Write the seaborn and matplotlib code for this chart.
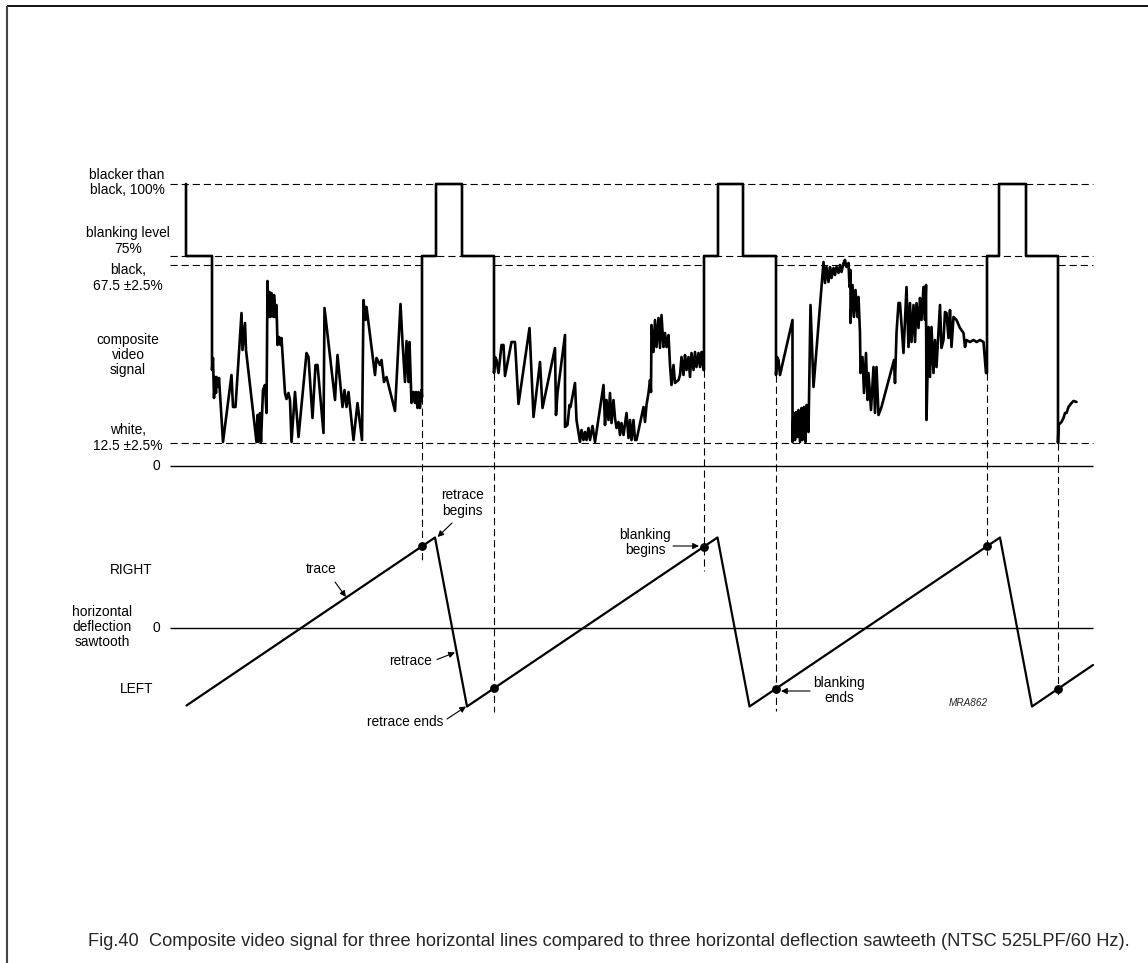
import numpy as np
import matplotlib
matplotlib.use("Agg")
import matplotlib.pyplot as plt
import seaborn as sns

# ------------------------------------------------------------------
# DATA  (diagram units: x = time position, y = level position, y grows downward)
# ------------------------------------------------------------------
# Video reference levels
LEVEL_SYNC = 184      # blacker than black, 100 %
LEVEL_BLANK = 256     # blanking level, 75 %
LEVEL_BLACK = 265     # black, 67.5 %
LEVEL_WHITE = 443     # white, 12.5 %
LEVEL_ZERO = 466      # 0
SAW_ZERO = 628        # sawtooth 0

# timing of the three horizontal lines
sync_end = [186, 462, 743, 1026]
blank_end = [212, 494, 776, 1058]
blank_begin = [422, 704, 987]
sync_begin = [436, 718, 999]

# composite video content of each line (time, level)
video_line1 = [(212, 370), (213, 358), (214, 398), (215, 377), (216, 393), (216.5, 377), (218, 387),
               (219, 378), (223, 442), (231.5, 375), (233, 407), (235.5, 407), (241.5, 313), (242.5, 350),
               (245, 323), (246, 350), (256.5, 442), (257.5, 415), (258.5, 442), (260, 413), (261, 442),
               (263, 390), (265, 385), (266.5, 413), (267.5, 281), (268.5, 317), (269.5, 292), (270.5, 317),
               (271.5, 293), (273.5, 317), (274, 295), (275.5, 317), (276.5, 305), (277.5, 345), (279, 337),
               (280.5, 345), (281.5, 338), (285, 393), (286.5, 399), (288.5, 393), (290, 400), (291.5, 442),
               (295, 392), (298.5, 437), (306.5, 353), (308.5, 357), (312.5, 418), (315.5, 365), (317.5, 365),
               (323.5, 433), (324.5, 308), (335, 400), (337.5, 355), (342.5, 407), (344.5, 390), (346.5, 407),
               (348.5, 392), (353.5, 440), (357.5, 403), (362, 440), (363.5, 300), (365.5, 320), (366.5, 307),
               (375, 375), (376.5, 358), (380, 365), (381.5, 360), (384, 382), (386.5, 377), (395, 411),
               (400.5, 304), (402.5, 342), (405, 382), (406.5, 341), (408.5, 382), (409.5, 342), (411.5, 403),
               (413.5, 392), (415, 403), (416, 392), (417.5, 408), (418.5, 392), (420, 408), (421.5, 390),
               (422, 397)]

video_line2 = [(494, 373), (495, 357), (496.5, 360), (498.5, 373), (501.5, 345), (503.5, 345), (505, 376),
               (511.5, 342), (515, 342), (518.5, 404), (529.5, 328), (533.5, 417), (540, 362), (542.5, 408),
               (555, 348), (556, 415), (557.5, 393), (565, 335), (565, 427), (567.5, 425), (569.5, 405),
               (570.5, 407), (575, 383), (576.5, 420), (580, 442), (581.5, 430), (583.5, 440), (585, 432),
               (586.5, 440), (588.5, 428), (590, 440), (592.5, 426), (595, 442), (603.5, 385), (605, 425),
               (606.5, 400), (608.5, 420), (610, 393), (611.5, 423), (613.5, 400), (615, 418), (616.5, 428),
               (618.5, 422), (620, 435), (621.5, 423), (623.5, 435), (626.5, 413), (628.5, 438), (630, 420),
               (631.5, 440), (633.5, 420), (635, 440), (636.5, 440), (643.5, 407), (645, 422), (646.5, 405),
               (648.5, 393), (650, 380), (651, 392), (651.5, 325), (653.5, 352), (655, 320), (656.5, 347),
               (658.5, 318), (660, 348), (661.5, 315), (663.5, 347), (665, 333), (666.5, 347), (668.5, 335),
               (670, 365), (671.5, 385), (673.5, 365), (675, 383), (678.5, 380), (680, 375), (681.5, 357),
               (683.5, 375), (685, 355), (686.5, 370), (688.5, 357), (690, 377), (691.5, 353), (693.5, 370),
               (695, 352), (696.5, 367), (698.5, 353), (700, 367), (701.5, 352), (703.5, 370), (704, 370)]

video_line3 = [(776, 375), (777, 357), (778.5, 360), (780, 375), (792.5, 320), (792.5, 442), (793.5, 413),
               (795, 440), (796, 412), (797.5, 437), (798.5, 410), (800, 442), (801.5, 408), (802.5, 440),
               (804, 407), (805.5, 442), (806.5, 405), (808.5, 432), (810.5, 305), (813.5, 387), (823.5, 262),
               (825, 283), (826.5, 267), (828.5, 282), (830, 267), (831.5, 278), (833.5, 268), (835, 275),
               (836.5, 267), (838.5, 273), (840, 265), (841.5, 272), (843.5, 263), (845, 260), (846.5, 267),
               (848.5, 263), (849.5, 287), (850.5, 270), (850.5, 323), (852.5, 285), (854, 317), (855.5, 290),
               (857.5, 317), (858.5, 297), (860, 333), (860.5, 373), (862.5, 357), (864, 393), (866, 353),
               (867.5, 400), (868.5, 373), (871, 410), (873.5, 367), (875, 413), (876.5, 367), (878.5, 415),
               (881.5, 407), (894, 360), (895, 383), (896.5, 333), (898.5, 303), (900, 303), (903.5, 353),
               (906.5, 287), (908.5, 347), (910, 303), (911.5, 342), (913.5, 305), (915, 342), (916.5, 303),
               (918.5, 328), (920, 298), (921.5, 320), (923.5, 287), (925, 320), (926, 285), (926.5, 420),
               (928.5, 327), (930, 377), (931.5, 327), (933.5, 373), (935, 340), (936.5, 367), (940, 305),
               (941.5, 348), (943.5, 340), (945, 312), (946.5, 313), (948.5, 338), (950, 310), (951.5, 347),
               (953.5, 317), (956.5, 320), (960, 328), (963.5, 333), (965, 347), (966.5, 340), (970, 342),
               (973.5, 340), (976.5, 342), (980, 340), (983.5, 342), (986, 373), (987, 373)]

video_line4 = [(1058, 443), (1058.5, 425), (1061.5, 422), (1063.5, 418), (1065, 413), (1066.5, 413),
               (1068.5, 407), (1071.5, 403), (1073.5, 401), (1076.5, 402)]

# horizontal deflection sawtooth vertices
saw_t = [186.5, 435, 467, 717.5, 749.5, 1000, 1032, 1093]
saw_v = [705.5, 537.5, 706.5, 537.5, 706.5, 537.5, 706.5, 665]

# lower ends of the vertical dashed guide lines
guide_begin_end = [560, 571, 555]
guide_end_end = [712, 711, 697]

LEVEL_LEFT_X, LEVEL_RIGHT_X = 170, 1093

caption = ("Fig.40  Composite video signal for three horizontal lines compared to three "
           "horizontal deflection sawteeth (NTSC 525LPF/60 Hz).")

# ------------------------------------------------------------------
# build the composite signal path
# ------------------------------------------------------------------
lines = [video_line1, video_line2, video_line3]
sig_t = [sync_end[0], sync_end[0], blank_end[0]]
sig_v = [LEVEL_SYNC, LEVEL_BLANK, LEVEL_BLANK]
for i, vl in enumerate(lines):
    sig_t += [p[0] for p in vl]
    sig_v += [p[1] for p in vl]
    sig_t += [blank_begin[i], sync_begin[i], sync_begin[i], sync_end[i + 1], sync_end[i + 1], blank_end[i + 1]]
    sig_v += [LEVEL_BLANK, LEVEL_BLANK, LEVEL_SYNC, LEVEL_SYNC, LEVEL_BLANK, LEVEL_BLANK]
sig_t += [p[0] for p in video_line4]
sig_v += [p[1] for p in video_line4]

# ------------------------------------------------------------------
# draw
# ------------------------------------------------------------------
sns.set_style("white")
plt.rcParams['font.family'] = ['Liberation Sans', 'DejaVu Sans']

fig = plt.figure(figsize=(11.48, 9.63), dpi=100)
ax = fig.add_axes([0, 0, 1, 1])

# frame
ax.plot([6.5, 1148], [6.5, 6.5], color='black', lw=1.3, solid_capstyle='butt')
ax.plot([6.5, 6.5], [6.5, 963], color='#444444', lw=1.5, solid_capstyle='butt')

dash = (0, (6.5, 3.5))
dlw = 0.8
# dashed level lines
for lv in [LEVEL_SYNC, LEVEL_BLANK, LEVEL_WHITE]:
    ax.hlines(lv, LEVEL_LEFT_X, LEVEL_RIGHT_X, colors='black', lw=dlw, linestyles=dash)
black_from = [LEVEL_LEFT_X] + blank_end[1:]
black_to = blank_begin + [LEVEL_RIGHT_X]
for a, b in zip(black_from, black_to):
    ax.hlines(LEVEL_BLACK, a, b, colors='black', lw=dlw, linestyles=dash)

# zero lines
ax.hlines([LEVEL_ZERO, SAW_ZERO], LEVEL_LEFT_X, LEVEL_RIGHT_X, colors='black', lw=1.0)

# vertical guide lines
for i in range(3):
    start = lines[i][-1][1]
    ax.vlines(blank_begin[i], start, guide_begin_end[i], colors='black', lw=dlw, linestyles=dash)
    start2 = (lines + [video_line4])[i + 1][0][1]
    ax.vlines(blank_end[i + 1], start2, guide_end_end[i], colors='black', lw=dlw, linestyles=dash)

# composite video signal
sns.lineplot(x=sig_t, y=sig_v, sort=False, estimator=None, color='black', lw=1.9, ax=ax)

# sawtooth
sns.lineplot(x=saw_t, y=saw_v, sort=False, estimator=None, color='black', lw=1.6, ax=ax)

# blanking dots on the sawtooth
dot_t = blank_begin + blank_end[1:]
dot_v = np.interp(dot_t, saw_t, saw_v)
sns.scatterplot(x=dot_t, y=dot_v, color='black', s=40, edgecolor='black', linewidth=0, ax=ax, zorder=5)

ax.set_xlim(0, 1148)
ax.set_ylim(963, 0)
ax.axis('off')

# labels
fs = 9.9
tk = dict(fontsize=fs, ha='center', va='center', linespacing=1.1, color='black')
ax.text(127, 182.5, "blacker than\nblack, 100%", **tk)
ax.text(128, 241, "blanking level\n75%", **tk)
ax.text(128, 278, "black,\n67.5 \u00b12.5%", **tk)
ax.text(128, 355, "composite\nvideo\nsignal", **tk)
ax.text(128, 438, "white,\n12.5 \u00b12.5%", **tk)
ax.text(156, 465.5, "0", **tk)
ax.text(131, 569.5, "RIGHT", **tk)
ax.text(102, 627, "horizontal\ndeflection\nsawtooth", **tk)
ax.text(156, 628, "0", **tk)
ax.text(136.5, 689, "LEFT", **tk)
ax.text(321, 569, "trace", **tk)
ax.text(411, 661, "retrace", **tk)
ax.text(405, 721.5, "retrace ends", **tk)
ax.text(462.5, 503, "retrace\nbegins", **tk)
ax.text(645, 542.5, "blanking\nbegins", **tk)
ax.text(839, 690.5, "blanking\nends", **tk)
ax.text(968, 703, "MRA862", fontsize=7.2, style='italic', ha='center', va='center')

ax.text(88, 941, caption, fontsize=13.15, ha='left', va='center')

# arrows
ap = dict(arrowstyle='-|>', color='black', lw=0.8, mutation_scale=9, shrinkA=0, shrinkB=0)
ax.annotate('', xy=(346, 597), xytext=(335, 582), arrowprops=ap)
ax.annotate('', xy=(455, 652.5), xytext=(437, 659.5), arrowprops=ap)
ax.annotate('', xy=(466, 706.5), xytext=(447, 719), arrowprops=ap)
ax.annotate('', xy=(437.5, 537), xytext=(452, 523), arrowprops=ap)
ax.annotate('', xy=(699, 546), xytext=(673, 546), arrowprops=ap)
ax.annotate('', xy=(781, 691), xytext=(810, 691), arrowprops=ap)

fig.savefig("out.png", dpi=100)
